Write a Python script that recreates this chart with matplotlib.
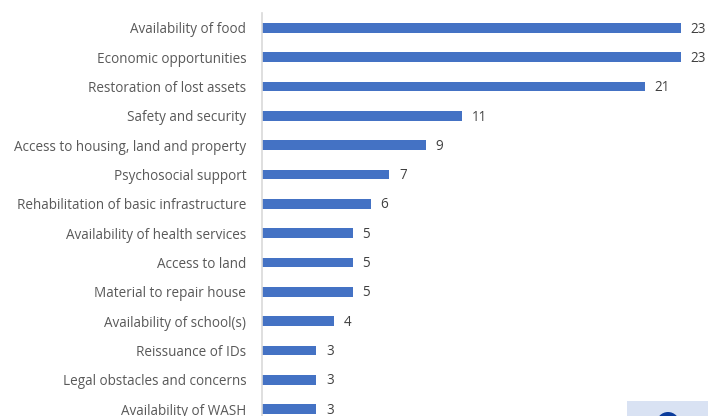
import matplotlib
matplotlib.use("Agg")
import matplotlib.pyplot as plt
from matplotlib.patches import Rectangle, Circle

categories = [
    "Availability of food", "Economic opportunities", "Restoration of lost assets",
    "Safety and security", "Access to housing, land and property", "Psychosocial support",
    "Rehabilitation of basic infrastructure", "Availability of health services",
    "Access to land", "Material to repair house", "Availability of school(s)",
    "Reissuance of IDs", "Legal obstacles and concerns", "Availability of WASH",
]
values = [23, 23, 21, 11, 9, 7, 6, 5, 5, 5, 4, 3, 3, 3]

W, H = 708, 416
plt.rcParams["font.family"] = ["Open Sans", "DejaVu Sans"]
fig = plt.figure(figsize=(W / 100, H / 100), dpi=100)

# Axes span from the category axis line to the right edge of the figure
x0, px_per_unit = 261.5, 18.24
y_first, step = 28.0, 29.31
ax = fig.add_axes([x0 / W, 0, 1 - x0 / W, (H - 13) / H])
ax.set_xlim(0, (W - x0) / px_per_unit)
ax.set_ylim((H - y_first) / step, (13 - y_first) / step)

positions = range(len(categories))
ax.barh(positions, values, height=0.33, color="#4472C4")
ax.set_yticks(list(positions), categories)
ax.tick_params(axis="y", length=0, pad=11, labelsize=9.75, labelcolor="#595959")
ax.set_xticks([])
for side in ("top", "right", "bottom"):
    ax.spines[side].set_visible(False)
ax.spines["left"].set_color("#D9D9D9")
ax.spines["left"].set_linewidth(1.2)

for pos, val in zip(positions, values):
    ax.annotate(str(val), (val, pos), xytext=(7, -0.8), textcoords="offset points",
                va="center", ha="left", fontsize=9.75, color="#404040")

# Corner badge, cut off by the lower figure edge
fig.add_artist(Rectangle((627 / W, 0), 81 / W, 15 / H, transform=fig.transFigure,
                         facecolor="#D9E2F3", edgecolor="none"))
fig.add_artist(Circle((668, -7.5), 11.5, transform=None, facecolor="#0B3C9C", edgecolor="none"))

fig.savefig("out.png", dpi=100)
